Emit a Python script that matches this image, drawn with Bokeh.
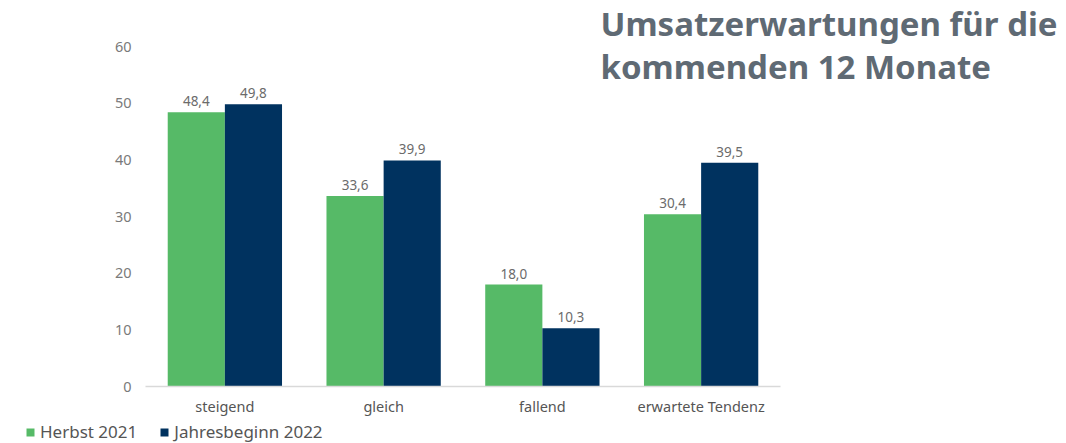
from bokeh.plotting import figure
from bokeh.models import ColumnDataSource, Range1d, Label, Legend, LegendItem, FixedTicker
from bokeh.core.properties import value
from bokeh.embed import file_html
from bokeh.resources import INLINE

categories = ["steigend", "gleich", "fallend", "erwartete Tendenz"]
herbst_2021 = [48.4, 33.6, 18.0, 30.4]
jahresbeginn_2022 = [49.8, 39.9, 10.3, 39.5]
series_names = ["Herbst 2021", "Jahresbeginn 2022"]
title_lines = ["Umsatzerwartungen für die", "kommenden 12 Monate"]
y_ticks = [0, 10, 20, 30, 40, 50, 60]

GREEN = "#56BA67"
BLUE = "#00325F"
FONT = "Noto Sans"

W, H = 1066, 443
# pixel geometry of the plotting area inside the canvas
PX_LEFT, PX_RIGHT, PX_TOP60, PX_ZERO = 145, 780, 46, 386
n = len(categories)
ppu_x = (PX_RIGHT - PX_LEFT) / n
ppu_y = (PX_ZERO - PX_TOP60) / 60.0

def fmt(v):
    return f"{v:.1f}".replace(".", ",")

centers = [i + 0.5 for i in range(n)]
src = ColumnDataSource(dict(
    xh=[c - 0.18 for c in centers],
    xj=[c + 0.18 for c in centers],
    h=herbst_2021,
    j=jahresbeginn_2022,
    hl=[fmt(v) for v in herbst_2021],
    jl=[fmt(v) for v in jahresbeginn_2022],
))

p = figure(width=W, height=H,
           x_range=Range1d(-PX_LEFT / ppu_x, (W - PX_LEFT) / ppu_x),
           y_range=Range1d(-(H - PX_ZERO) / ppu_y, 60 + PX_TOP60 / ppu_y),
           output_backend="svg", toolbar_location=None,
           min_border_left=0, min_border_right=0, min_border_top=0, min_border_bottom=0)
p.outline_line_color = None
p.background_fill_color = "white"
p.border_fill_color = "white"

r1 = p.vbar(x="xh", top="h", width=0.36, source=src, fill_color=GREEN, line_color=None)
r2 = p.vbar(x="xj", top="j", width=0.36, source=src, fill_color=BLUE, line_color=None)

for xcol, ycol, tcol in (("xh", "h", "hl"), ("xj", "j", "jl")):
    p.text(x=xcol, y=ycol, text=tcol, source=src,
           text_align="center", text_baseline="bottom", y_offset=-6,
           text_font=value(FONT), text_font_size="13.5px", text_color="#6b6b6b")

p.xgrid.visible = False
p.ygrid.visible = False

# y axis
p.yaxis.fixed_location = 0
p.yaxis.bounds = (0, 60)
p.yaxis.ticker = FixedTicker(ticks=y_ticks)
p.yaxis.axis_line_color = None
p.yaxis.major_tick_line_color = None
p.yaxis.minor_tick_line_color = None
p.yaxis.major_tick_out = 0
p.yaxis.major_tick_in = 0
p.yaxis.major_label_standoff = 14
p.yaxis.major_label_text_font = FONT
p.yaxis.major_label_text_font_size = "14.5px"
p.yaxis.major_label_text_color = "#7a7a7a"

# x axis
p.xaxis.fixed_location = 0
p.xaxis.bounds = (0, n)
p.xaxis.ticker = FixedTicker(ticks=centers)
p.xaxis.major_label_overrides = {c: lab for c, lab in zip(centers, categories)}
p.xaxis.axis_line_color = "#d9d9d9"
p.xaxis.axis_line_width = 1.5
p.xaxis.major_tick_line_color = None
p.xaxis.minor_tick_line_color = None
p.xaxis.major_tick_out = 0
p.xaxis.major_tick_in = 0
p.xaxis.major_label_standoff = 9
p.xaxis.major_label_text_font = FONT
p.xaxis.major_label_text_font_size = "14.5px"
p.xaxis.major_label_text_color = "#555555"

for i, line in enumerate(title_lines):
    p.add_layout(Label(x=600, y=H - 23 - i * 43, x_units="screen", y_units="screen", text=line,
                       text_font="Noto Sans", text_font_style="bold", text_font_size="33px",
                       text_color="#5F6A74", text_baseline="alphabetic"))

legend = Legend(items=[LegendItem(label=series_names[0], renderers=[r1]),
                       LegendItem(label=series_names[1], renderers=[r2])],
                orientation="horizontal", location=(25, 0),
                label_text_font=FONT, label_text_font_size="17px", label_text_color="#555555",
                glyph_width=10, glyph_height=10, label_height=14, spacing=22, label_standoff=5,
                padding=0, margin=0, border_line_color=None, background_fill_alpha=0)
p.add_layout(legend, "center")

open("out.html", "w").write(file_html(p, INLINE))
